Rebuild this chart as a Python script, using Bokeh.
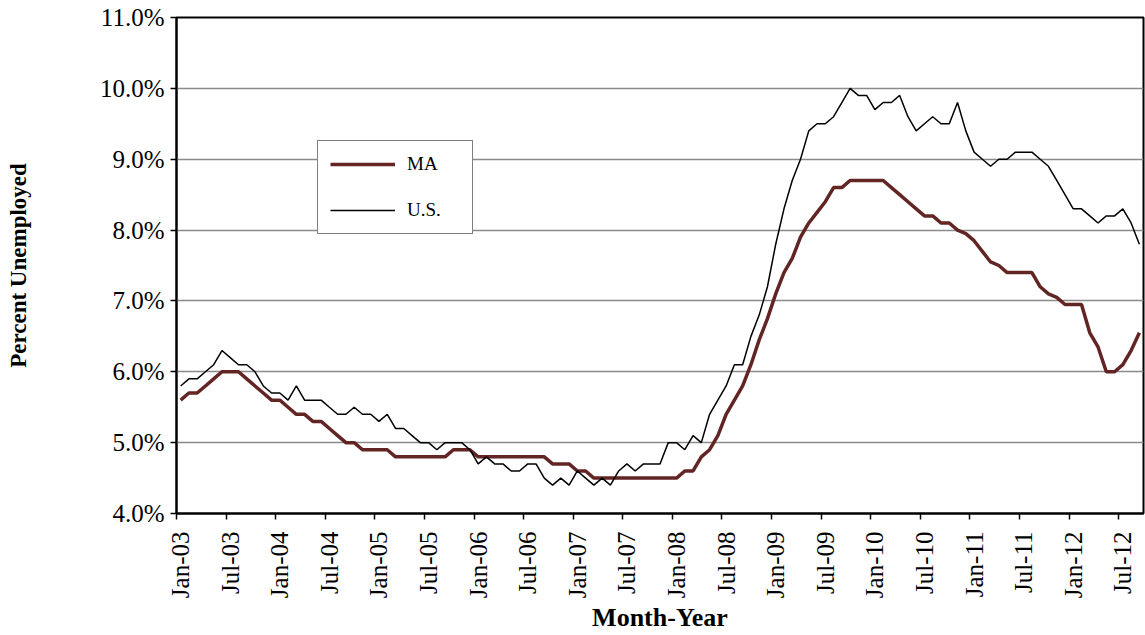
import math
from bokeh.plotting import figure
from bokeh.models import FixedTicker, Legend, LegendItem, Range1d, ColumnDataSource
from bokeh.embed import file_html
from bokeh.resources import INLINE

# ---------------- data ----------------
years = ["03", "04", "05", "06", "07", "08", "09", "10", "11", "12"]
month_names = ["Jan", "Feb", "Mar", "Apr", "May", "Jun",
               "Jul", "Aug", "Sep", "Oct", "Nov", "Dec"]
month_labels = [f"{m}-{y}" for y in years for m in month_names][:117]  # Jan-03 .. Sep-12

ma_rate = [
    5.6, 5.7, 5.7, 5.8, 5.9, 6.0, 6.0, 6.0, 5.9, 5.8, 5.7, 5.6,   # 2003
    5.6, 5.5, 5.4, 5.4, 5.3, 5.3, 5.2, 5.1, 5.0, 5.0, 4.9, 4.9,   # 2004
    4.9, 4.9, 4.8, 4.8, 4.8, 4.8, 4.8, 4.8, 4.8, 4.9, 4.9, 4.9,   # 2005
    4.8, 4.8, 4.8, 4.8, 4.8, 4.8, 4.8, 4.8, 4.8, 4.7, 4.7, 4.7,   # 2006
    4.6, 4.6, 4.5, 4.5, 4.5, 4.5, 4.5, 4.5, 4.5, 4.5, 4.5, 4.5,   # 2007
    4.5, 4.6, 4.6, 4.8, 4.9, 5.1, 5.4, 5.6, 5.8, 6.1, 6.45, 6.75, # 2008
    7.1, 7.4, 7.6, 7.9, 8.1, 8.25, 8.4, 8.6, 8.6, 8.7, 8.7, 8.7,  # 2009
    8.7, 8.7, 8.6, 8.5, 8.4, 8.3, 8.2, 8.2, 8.1, 8.1, 8.0, 7.95,  # 2010
    7.85, 7.7, 7.55, 7.5, 7.4, 7.4, 7.4, 7.4, 7.2, 7.1, 7.05, 6.95,  # 2011
    6.95, 6.95, 6.55, 6.35, 6.0, 6.0, 6.1, 6.3, 6.55,             # 2012
]

us_rate = [
    5.8, 5.9, 5.9, 6.0, 6.1, 6.3, 6.2, 6.1, 6.1, 6.0, 5.8, 5.7,   # 2003
    5.7, 5.6, 5.8, 5.6, 5.6, 5.6, 5.5, 5.4, 5.4, 5.5, 5.4, 5.4,   # 2004
    5.3, 5.4, 5.2, 5.2, 5.1, 5.0, 5.0, 4.9, 5.0, 5.0, 5.0, 4.9,   # 2005
    4.7, 4.8, 4.7, 4.7, 4.6, 4.6, 4.7, 4.7, 4.5, 4.4, 4.5, 4.4,   # 2006
    4.6, 4.5, 4.4, 4.5, 4.4, 4.6, 4.7, 4.6, 4.7, 4.7, 4.7, 5.0,   # 2007
    5.0, 4.9, 5.1, 5.0, 5.4, 5.6, 5.8, 6.1, 6.1, 6.5, 6.8, 7.2,   # 2008
    7.8, 8.3, 8.7, 9.0, 9.4, 9.5, 9.5, 9.6, 9.8, 10.0, 9.9, 9.9,  # 2009
    9.7, 9.8, 9.8, 9.9, 9.6, 9.4, 9.5, 9.6, 9.5, 9.5, 9.8, 9.4,   # 2010
    9.1, 9.0, 8.9, 9.0, 9.0, 9.1, 9.1, 9.1, 9.0, 8.9, 8.7, 8.5,   # 2011
    8.3, 8.3, 8.2, 8.1, 8.2, 8.2, 8.3, 8.1, 7.8,                  # 2012
]

x_tick_labels = ["Jan-03", "Jul-03", "Jan-04", "Jul-04", "Jan-05", "Jul-05",
                 "Jan-06", "Jul-06", "Jan-07", "Jul-07", "Jan-08", "Jul-08",
                 "Jan-09", "Jul-09", "Jan-10", "Jul-10", "Jan-11", "Jul-11",
                 "Jan-12", "Jul-12"]
y_ticks = [4, 5, 6, 7, 8, 9, 10, 11]
y_tick_labels = ["4.0%", "5.0%", "6.0%", "7.0%", "8.0%", "9.0%", "10.0%", "11.0%"]

series_names = ["MA", "U.S."]

# ---------------- figure ----------------
FONT = "Liberation Serif"
n = len(month_labels)
idx = list(range(n))
src = ColumnDataSource(dict(x=idx, ma=ma_rate, us=us_rate, month=month_labels))

p = figure(width=1145, height=635, output_backend="svg", toolbar_location=None,
           x_range=Range1d(-0.5, n - 0.5), y_range=Range1d(4, 11),
           min_border_left=176, min_border_right=2, min_border_top=17,
           min_border_bottom=122)
p.background_fill_color = "white"
p.border_fill_color = "white"
p.outline_line_color = "black"
p.outline_line_width = 2

r_ma = p.line("x", "ma", source=src, line_color="#632523", line_width=3.5)
r_us = p.line("x", "us", source=src, line_color="black", line_width=1.5)

# x axis: labels centred on month, ticks at category boundary
tick_pos = [month_labels.index(l) for l in x_tick_labels]
xa = p.xaxis[0]
xa.ticker = FixedTicker(ticks=tick_pos, minor_ticks=[t - 0.5 for t in tick_pos])
xa.major_label_overrides = {t: l for t, l in zip(tick_pos, x_tick_labels)}
xa.major_label_orientation = math.pi / 2
xa.major_tick_line_color = None
xa.major_tick_out = 0
xa.major_tick_in = 0
xa.minor_tick_line_color = "black"
xa.minor_tick_line_width = 1.5
xa.minor_tick_out = 6
xa.minor_tick_in = 0
xa.major_label_standoff = 12
xa.major_label_text_font = FONT
xa.major_label_text_font_size = "25px"
xa.major_label_text_color = "black"
xa.axis_line_color = "black"
xa.axis_line_width = 2
xa.axis_label = "Month-Year"
xa.axis_label_text_font = FONT
xa.axis_label_text_font_style = "bold"
xa.axis_label_text_font_size = "26px"
xa.axis_label_text_color = "black"
xa.axis_label_standoff = 2

ya = p.yaxis[0]
ya.ticker = FixedTicker(ticks=y_ticks, minor_ticks=[])
ya.major_label_overrides = {t: l for t, l in zip(y_ticks, y_tick_labels)}
ya.major_tick_line_color = "black"
ya.major_tick_line_width = 1.5
ya.major_tick_out = 6
ya.major_tick_in = 0
ya.major_label_standoff = 6
ya.major_label_text_font = FONT
ya.major_label_text_font_size = "25px"
ya.major_label_text_color = "black"
ya.axis_line_color = "black"
ya.axis_line_width = 2
ya.axis_label = "Percent Unemployed"
ya.axis_label_text_font = FONT
ya.axis_label_text_font_style = "bold"
ya.axis_label_text_font_size = "23px"
ya.axis_label_text_color = "black"
ya.axis_label_standoff = 66

p.xgrid.grid_line_color = None
p.ygrid.ticker = FixedTicker(ticks=y_ticks)
p.ygrid.grid_line_color = "#8a8a8a"
p.ygrid.grid_line_width = 1.5

legend = Legend(items=[LegendItem(label=series_names[0], renderers=[r_ma]),
                       LegendItem(label=series_names[1], renderers=[r_us])],
                location=(141, 279))
legend.border_line_color = "black"
legend.border_line_width = 1.5
legend.background_fill_color = "white"
legend.background_fill_alpha = 1
legend.padding = 12
legend.spacing = 24
legend.glyph_height = 16
legend.glyph_width = 65
legend.label_standoff = 12
legend.label_width = 53
legend.label_text_font = FONT
legend.label_text_font_size = "19px"
legend.label_text_color = "black"
legend.margin = 0
p.add_layout(legend, "center")

open("out.html", "w").write(file_html(p, INLINE))
